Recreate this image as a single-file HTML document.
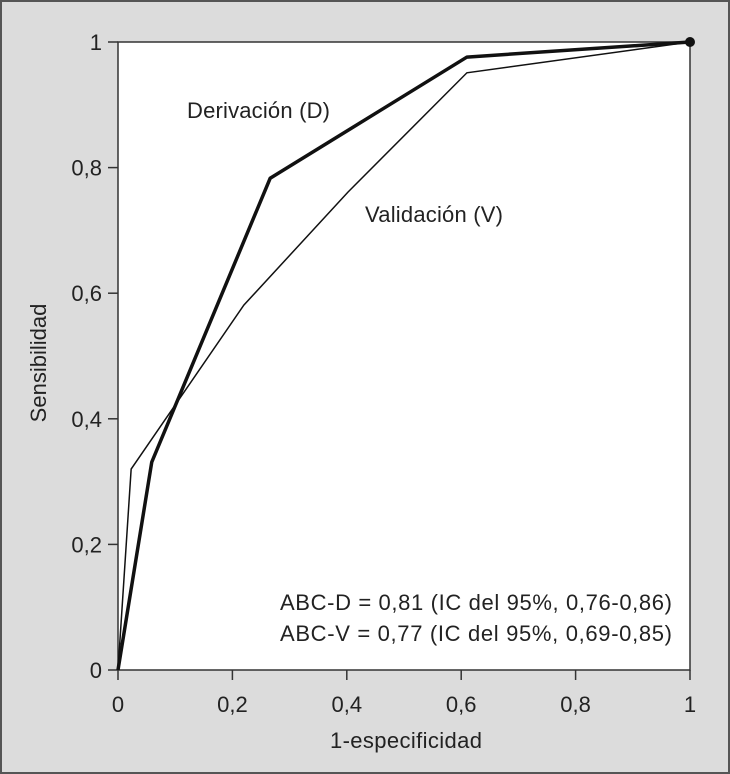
<!DOCTYPE html>
<html><head><meta charset="utf-8"><style>
body{margin:0;background:#dcdcdc}
svg{display:block}
text{font-family:"Liberation Sans",sans-serif;fill:#222}
</style></head><body>
<svg width="730" height="774">
<rect x="1" y="1" width="728" height="772" fill="#dcdcdc" stroke="#555" stroke-width="2"/>
<rect x="118" y="42" width="572" height="628" fill="#fff" stroke="#333" stroke-width="1.5"/>
<g id="axes"></g>
<g id="series"></g>
<text x="187" y="118" font-size="22" textLength="143">Derivación (D)</text>
<text x="365" y="222" font-size="22" textLength="138">Validación (V)</text>
<text x="280" y="610" font-size="22" textLength="392">ABC-D = 0,81 (IC del 95%, 0,76-0,86)</text>
<text x="280" y="641" font-size="22" textLength="392">ABC-V = 0,77 (IC del 95%, 0,69-0,85)</text>
<text x="330" y="748" font-size="22" textLength="152">1-especificidad</text>
<text x="46" y="363" font-size="22" text-anchor="middle" transform="rotate(-90 46 363)">Sensibilidad</text>
</svg>
<script>
const xTicks=[0,0.2,0.4,0.6,0.8,1];
const xTickLabels=["0","0,2","0,4","0,6","0,8","1"];
const yTicks=[0,0.2,0.4,0.6,0.8,1];
const yTickLabels=["0","0,2","0,4","0,6","0,8","1"];
const derivX=[0,0.059,0.266,0.61,1];
const derivY=[0,0.331,0.783,0.976,1];
const validX=[0,0.023,0.22,0.402,0.61,1];
const validY=[0,0.32,0.581,0.761,0.951,1];
const NS="http://www.w3.org/2000/svg";
const sx=v=>118+v*572, sy=v=>670-v*628;
const axes=document.getElementById('axes'), ser=document.getElementById('series');
function mk(t,a,p){const e=document.createElementNS(NS,t);for(const k in a)e.setAttribute(k,a[k]);p.appendChild(e);return e;}
xTicks.forEach((v,i)=>{
 const l=mk('line',{x1:sx(v),x2:sx(v),y1:670,y2:680,stroke:'#333','stroke-width':1.5},axes);
 
 
 const t=mk('text',{x:sx(v),y:712,'font-size':22,'text-anchor':'middle'},axes);t.textContent=xTickLabels[i];
 
 
});
yTicks.forEach((v,i)=>{
 const l=mk('line',{x1:108,x2:118,y1:sy(v),y2:sy(v),stroke:'#333','stroke-width':1.5},axes);
 
 
 const t=mk('text',{x:102,y:sy(v)+8,'font-size':22,'text-anchor':'end'},axes);t.textContent=yTickLabels[i];
 
 
});
const pv=mk('polyline',{points:validX.map((x,i)=>sx(x)+','+sy(validY[i])).join(' '),fill:'none',stroke:'#111','stroke-width':1.5},ser);


const pd=mk('polyline',{points:derivX.map((x,i)=>sx(x)+','+sy(derivY[i])).join(' '),fill:'none',stroke:'#111','stroke-width':3.5,'stroke-linejoin':'round'},ser);


const c=mk('circle',{cx:sx(1),cy:sy(1),r:5,fill:'#111'},ser);


</script>
</body></html>
